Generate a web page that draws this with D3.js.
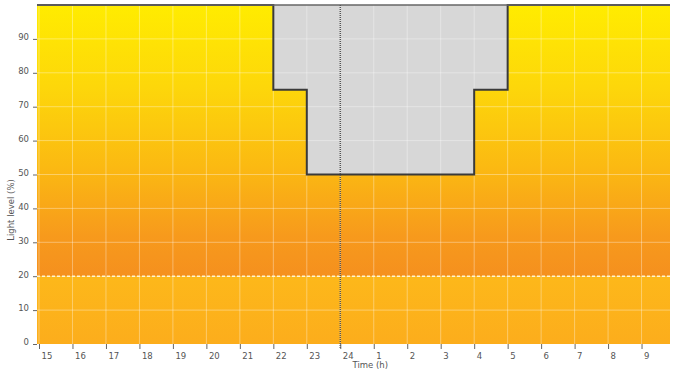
<!DOCTYPE html>
<html><head><meta charset="utf-8">
<script src="https://cdn.jsdelivr.net/npm/d3@7"></script>
<style>body{margin:0;background:#fff;} svg{display:block;} text{font-family:"DejaVu Sans",Verdana,sans-serif;}</style>
</head><body>
<svg id="c" width="677" height="373"></svg>
<script>
// Data
const hourValues = [15,16,17,18,19,20,21,22,23,24,25,26,27,28,29,30,31,32,33];
const hourLabels = ["15","16","17","18","19","20","21","22","23","24","1","2","3","4","5","6","7","8","9"];
const levelTicks = [0,10,20,30,40,50,60,70,80,90];
const stepTimes  = [14.94, 22, 23, 28, 29, 33.85];
const stepLevels = [100,   75, 50, 75, 100, 100];
const thresholdLevel = 20;
const nowHour = 24;
const xDomain = [14.94, 33.85];

const svg = d3.select("#c");
const L=37, R=670, T=5, B=344;
const x = d3.scaleLinear().domain(xDomain).range([L,R]);
const y = d3.scaleLinear().domain([0,100]).range([B,T]);

const defs = svg.append("defs");
const g1 = defs.append("linearGradient").attr("id","gTop").attr("x1",0).attr("y1",0).attr("x2",0).attr("y2",1);
[[0,"#ffec00"],[0.3,"#fdd70a"],[0.6,"#fbb912"],[0.85,"#f79a1c"],[1,"#f5901e"]].forEach(s=>g1.append("stop").attr("offset",s[0]).attr("stop-color",s[1]));
const g2 = defs.append("linearGradient").attr("id","gBot").attr("x1",0).attr("y1",0).attr("x2",0).attr("y2",1);
[[0,"#fdb81a"],[1,"#fcad1c"]].forEach(s=>g2.append("stop").attr("offset",s[0]).attr("stop-color",s[1]));

svg.append("rect").attr("x",L).attr("y",y(100)).attr("width",R-L).attr("height",y(thresholdLevel)-y(100)).attr("fill","url(#gTop)");
svg.append("rect").attr("x",L).attr("y",y(thresholdLevel)).attr("width",R-L).attr("height",y(0)-y(thresholdLevel)).attr("fill","url(#gBot)");

const pts = stepTimes.map((t,i)=>[t,stepLevels[i]]);
// grey area above the dimming curve
svg.append("path").datum(pts)
  .attr("d", d3.area().x(d=>x(d[0])).y0(y(100)).y1(d=>y(d[1])).curve(d3.curveStepAfter))
  .attr("fill","#d7d7d7");

// grid
const grid = svg.append("g").attr("stroke","#ffffff").attr("stroke-opacity",0.35).attr("stroke-width",1);
hourValues.forEach(h=>grid.append("line").attr("x1",x(h)).attr("x2",x(h)).attr("y1",T).attr("y2",B));
levelTicks.filter(v=>v>0 && v!==thresholdLevel).forEach(v=>grid.append("line").attr("x1",L).attr("x2",R).attr("y1",y(v)).attr("y2",y(v)));

// threshold dashed
svg.append("line").attr("x1",L).attr("x2",R).attr("y1",y(thresholdLevel)).attr("y2",y(thresholdLevel))
  .attr("stroke","#fff3d0").attr("stroke-width",1.5).attr("stroke-dasharray","3,2");

// curve line
svg.append("path").datum(pts)
  .attr("d", d3.line().x(d=>x(d[0])).y(d=>y(d[1])).curve(d3.curveStepAfter))
  .attr("fill","none").attr("stroke","#3a3a3a").attr("stroke-width",2);

// top line
svg.append("line").attr("x1",L).attr("x2",R).attr("y1",y(100)).attr("y2",y(100)).attr("stroke","#666").attr("stroke-width",1.5);

// now line
svg.append("line").attr("x1",x(nowHour)).attr("x2",x(nowHour)).attr("y1",T).attr("y2",B+4)
  .attr("stroke","#555").attr("stroke-width",1.5).attr("stroke-dasharray","1,1");

// axes
const xa = svg.append("g").attr("transform",`translate(0,${B})`)
  .call(d3.axisBottom(x).tickValues(hourValues).tickFormat((d,i)=>hourLabels[i]).tickSize(5).tickPadding(4));
xa.select(".domain").remove();
xa.selectAll("line").attr("stroke","#666");
xa.selectAll("text").attr("text-anchor","start").attr("dx","2").attr("fill","#555").attr("font-size","8.5px");

const ya = svg.append("g").attr("transform",`translate(${L},0)`)
  .call(d3.axisLeft(y).tickValues(levelTicks).tickSize(4).tickPadding(4));
ya.select(".domain").remove();
ya.selectAll("line").attr("stroke","#666");
ya.selectAll("text").attr("fill","#555").attr("font-size","8.5px").attr("dy","0.1em");

svg.append("text").attr("x",(x(23.5)+x(24.5))/2+30).attr("y",368).attr("text-anchor","middle")
  .attr("font-size","8.5px").attr("fill","#555").text("Time (h)");
svg.append("text").attr("transform","translate(14,210) rotate(-90)").attr("text-anchor","middle")
  .attr("font-size","8.5px").attr("fill","#555").text("Light level (%)");
</script>
</body></html>
